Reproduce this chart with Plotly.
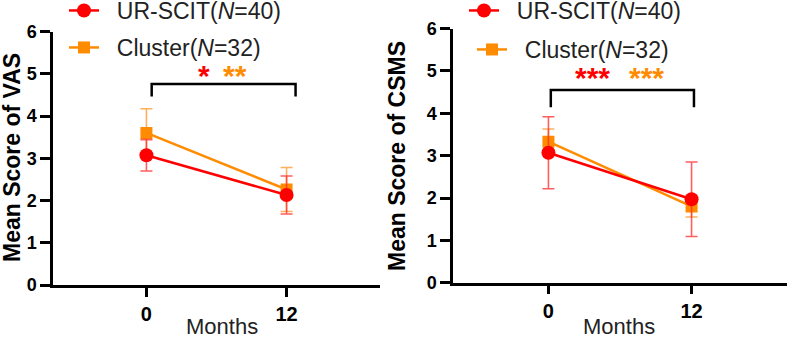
import plotly.graph_objects as go

W, H = 787, 338

# ---------------- data ----------------
months = [0, 12]
month_ticks = [0, 12]
score_ticks = [0, 1, 2, 3, 4, 5, 6]

series_names = ["UR-SCIT(<i>N</i>=40)", "Cluster(<i>N</i>=32)"]

vas_urscit = [3.07, 2.13]
vas_urscit_err = [0.37, 0.45]
vas_cluster = [3.60, 2.26]
vas_cluster_err = [0.57, 0.52]

csms_urscit = [3.07, 1.97]
csms_urscit_err = [0.85, 0.88]
csms_cluster = [3.33, 1.80]
csms_cluster_err = [0.30, 0.25]

vas_stars = ["*", "**"]
csms_stars = ["***", "***"]

# ---------------- style ----------------
RED = "#FF0000"
ORANGE = "#FF8C00"
RED_ERR = "rgba(255,40,40,0.75)"
ORANGE_ERR = "rgba(255,150,40,0.75)"
FONT = "Arial, Liberation Sans, sans-serif"

def px_x(p):
    return p / W

def px_y(p):
    return 1 - p / H

fig = go.Figure()

def add_pair(xa, ya, leg_red, leg_ora, red_y, red_e, ora_y, ora_e):
    # orange first so red is drawn on top
    fig.add_trace(go.Scatter(
        x=months, y=ora_y, xaxis=xa, yaxis=ya, legend=leg_ora,
        name="\u00a0\u00a0" + series_names[1],
        mode="lines+markers",
        line=dict(color=ORANGE, width=2.5),
        marker=dict(symbol="square", size=12, color=ORANGE),
        error_y=dict(type="data", array=ora_e, visible=True, color=ORANGE_ERR,
                     thickness=1.6, width=6),
    ))
    fig.add_trace(go.Scatter(
        x=months, y=red_y, xaxis=xa, yaxis=ya, legend=leg_red,
        name="\u00a0\u00a0" + series_names[0],
        mode="lines+markers",
        line=dict(color=RED, width=2.5),
        marker=dict(symbol="circle", size=14, color=RED),
        error_y=dict(type="data", array=red_e, visible=True, color=RED_ERR,
                     thickness=1.6, width=6),
    ))

add_pair("x", "y", "legend", "legend2", vas_urscit, vas_urscit_err, vas_cluster, vas_cluster_err)
add_pair("x2", "y2", "legend3", "legend4", csms_urscit, csms_urscit_err, csms_cluster, csms_cluster_err)

axis_x = dict(
    range=[-8, 20], tickvals=month_ticks, ticktext=[str(t) for t in month_ticks],
    showline=True, linecolor="black", linewidth=2.5,
    ticks="outside", ticklen=9, tickwidth=2.5, tickcolor="black",
    tickfont=dict(family=FONT, size=20, color="black", weight="bold"),
    showgrid=False, zeroline=False, fixedrange=True, automargin=False,
)
axis_y = dict(
    range=[0, 6], tickvals=score_ticks,
    showline=True, linecolor="black", linewidth=2.5,
    ticks="outside", ticklen=10, tickwidth=2.5, tickcolor="black",
    tickfont=dict(family=FONT, size=18, color="black", weight="bold"),
    showgrid=False, zeroline=False, fixedrange=True, automargin=False,
)

def leg(xp, row_center):
    return dict(x=px_x(xp - 6), y=1 - (row_center - 22) / H, xanchor="left", yanchor="top",
                bgcolor="rgba(0,0,0,0)", font=dict(family=FONT, size=23, color="#222"),
                itemclick=False, itemdoubleclick=False)

fig.update_layout(
    width=W, height=H,
    margin=dict(l=0, r=0, t=0, b=0, pad=0, autoexpand=False),
    paper_bgcolor="white", plot_bgcolor="white",
    font=dict(family=FONT, color="black"),
    xaxis=dict(axis_x, domain=[px_x(53), px_x(380)], anchor="y"),
    yaxis=dict(axis_y, domain=[px_y(285), px_y(31.5)], anchor="x"),
    xaxis2=dict(axis_x, domain=[px_x(453), 1.0], anchor="y2"),
    yaxis2=dict(axis_y, domain=[px_y(282.7), px_y(28.6)], anchor="x2"),
    legend=leg(70, 11),
    legend2=leg(70, 48),
    legend3=leg(470, 11),
    legend4=leg(478, 50),
    showlegend=True,
)

# significance brackets
fig.add_shape(type="path", xref="x", yref="y",
              path="M 0.45,4.46 L 0.45,4.76 L 12.77,4.76 L 12.77,4.46",
              line=dict(color="black", width=2.5))
fig.add_shape(type="path", xref="x2", yref="y2",
              path="M 0.2,4.14 L 0.2,4.55 L 12.2,4.55 L 12.2,4.14",
              line=dict(color="black", width=2.5))

C = dict(xanchor="center", yanchor="middle", showarrow=False)
ann = []
# stars
ann.append(dict(C, x=4.9, y=4.95, xref="x", yref="y", text=vas_stars[0],
                font=dict(family=FONT, size=30, color=RED, weight="bold")))
ann.append(dict(C, x=7.57, y=4.95, xref="x", yref="y", text=vas_stars[1],
                font=dict(family=FONT, size=30, color=ORANGE, weight="bold")))
ann.append(dict(C, x=3.71, y=4.84, xref="x2", yref="y2", text=csms_stars[0],
                font=dict(family=FONT, size=30, color=RED, weight="bold")))
ann.append(dict(C, x=8.18, y=4.84, xref="x2", yref="y2", text=csms_stars[1],
                font=dict(family=FONT, size=30, color=ORANGE, weight="bold")))
# axis titles
ann.append(dict(C, x=px_x(12), y=px_y(158), xref="paper", yref="paper", text="Mean Score of VAS",
                textangle=-90,
                font=dict(family=FONT, size=23, color="black", weight="bold")))
ann.append(dict(C, x=px_x(397), y=px_y(156), xref="paper", yref="paper", text="Mean Score of CSMS",
                textangle=-90,
                font=dict(family=FONT, size=23, color="black", weight="bold")))
ann.append(dict(C, x=px_x(222), y=px_y(326), xref="paper", yref="paper", text="Months",
                font=dict(family=FONT, size=22, color="#222")))
ann.append(dict(C, x=px_x(619), y=px_y(326), xref="paper", yref="paper", text="Months",
                font=dict(family=FONT, size=22, color="#222")))
fig.update_layout(annotations=ann)

fig.write_html("out.html")
